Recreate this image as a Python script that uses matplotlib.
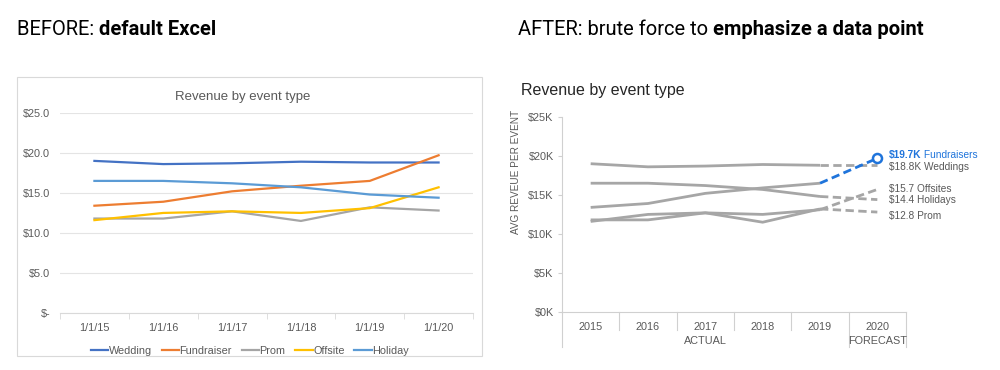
import matplotlib
matplotlib.use("Agg")
import matplotlib.pyplot as plt
import matplotlib.transforms as mtrans
from matplotlib.patches import Rectangle

years_before = ["1/1/15", "1/1/16", "1/1/17", "1/1/18", "1/1/19", "1/1/20"]
years_after = ["2015", "2016", "2017", "2018", "2019", "2020"]
series_names = ["Wedding", "Fundraiser", "Prom", "Offsite", "Holiday"]
wedding = [19.0, 18.6, 18.7, 18.9, 18.8, 18.8]
fundraiser = [13.4, 13.9, 15.2, 15.9, 16.5, 19.7]
prom = [11.8, 11.8, 12.7, 11.5, 13.2, 12.8]
offsite = [11.6, 12.5, 12.7, 12.5, 13.1, 15.7]
holiday = [16.5, 16.5, 16.2, 15.7, 14.8, 14.4]
excel_colors = ["#4472C4", "#ED7D31", "#A5A5A5", "#FFC000", "#5B9BD5"]
end_labels = ["$18.8K Weddings", "$19.7K Fundraisers", "$12.8 Prom", "$15.7 Offsites", "$14.4 Holidays"]

all_series = [wedding, fundraiser, prom, offsite, holiday]

plt.rcParams['font.family'] = ['Liberation Sans', 'DejaVu Sans']
GREY_TXT = "#595959"
LINE_GREY = "#A6A6A6"
BLUE = "#1F74DB"
HEAD_FONT = ['Liberation Sans Narrow', 'Roboto', 'DejaVu Sans']

fig = plt.figure(figsize=(10, 3.7), dpi=100)

# ---- BEFORE chart ----
fig.patches.append(Rectangle((0.017, 0.038), 0.465, 0.754, transform=fig.transFigure,
                             facecolor='none', edgecolor='#D9D9D9', lw=0.8))
ax1 = fig.add_axes([0.060, 0.154, 0.413, 0.541])
x = range(len(years_before))
for name, vals, c in zip(series_names, all_series, excel_colors):
    ax1.plot(x, vals, color=c, lw=1.6, label=name)
ax1.set_xlim(-0.5, 5.5)
ax1.set_ylim(0, 25)
ax1.set_yticks([0, 5, 10, 15, 20, 25])
ax1.set_yticklabels(["$-", "$5.0", "$10.0", "$15.0", "$20.0", "$25.0"])
ax1.set_xticks(list(x))
ax1.set_xticklabels(years_before)
ax1.set_xticks([i - 0.5 for i in range(7)], minor=True)
ax1.tick_params(axis='x', which='major', length=0, pad=7, labelsize=7.8, labelcolor=GREY_TXT)
ax1.tick_params(axis='x', which='minor', length=4, color='#D9D9D9')
ax1.tick_params(axis='y', length=0, pad=7, labelsize=7.8, labelcolor=GREY_TXT)
ax1.grid(axis='y', color='#E4E4E4', lw=0.8)
ax1.set_axisbelow(True)
for s in ['top', 'right', 'left']:
    ax1.spines[s].set_visible(False)
ax1.spines['bottom'].set_color('#D9D9D9')
ax1.set_title("Revenue by event type", fontsize=9.5, color=GREY_TXT, x=0.443, pad=9)
ax1.legend(loc='center', bbox_to_anchor=(0.46, -0.19), ncol=5, frameon=False,
           fontsize=7.8, handlelength=1.6, handletextpad=0.05, columnspacing=0.9,
           labelcolor=GREY_TXT)

# headings
t = fig.text(0.017, 0.905, "BEFORE: ", fontsize=14.5, family=HEAD_FONT, va='baseline')
ax1.annotate("default Excel", xy=(1, 0), xycoords=t, fontsize=14.5, family=HEAD_FONT,
             weight='bold', va='bottom', annotation_clip=False)
t2 = fig.text(0.518, 0.905, "AFTER: brute force to ", fontsize=14.5, family=HEAD_FONT, va='baseline')
ax1.annotate("emphasize a data point", xy=(1, 0), xycoords=t2, fontsize=14.5, family=HEAD_FONT,
             weight='bold', va='bottom', annotation_clip=False)

# ---- AFTER chart ----
ax2 = fig.add_axes([0.562, 0.157, 0.344, 0.527])
for name, vals in zip(series_names, all_series):
    hi = name == "Fundraiser"
    ax2.plot(range(5), vals[:5], color=LINE_GREY, lw=2, solid_capstyle='butt')
    ax2.plot([4, 5], vals[4:], color=BLUE if hi else LINE_GREY, lw=2, ls=(0, (3, 1.6)))
ax2.plot([5], [fundraiser[5]], 'o', ms=6.5, mfc='white', mec=BLUE, mew=1.8)
ax2.set_xlim(-0.5, 5.5)
ax2.set_ylim(0, 25)
ax2.set_yticks([0, 5, 10, 15, 20, 25])
ax2.set_yticklabels(["$0K", "$5K", "$10K", "$15K", "$20K", "$25K"])
ax2.set_xticks(range(6))
ax2.set_xticklabels(years_after)
ax2.tick_params(axis='x', length=0, pad=7, labelsize=7.8, labelcolor=GREY_TXT)
ax2.tick_params(axis='y', length=3, color='#D0D0D0', pad=3, labelsize=7.8, labelcolor=GREY_TXT)
for s in ['top', 'right']:
    ax2.spines[s].set_visible(False)
ax2.spines['left'].set_color('#D0D0D0')
ax2.spines['bottom'].set_color('#D0D0D0')
ax2.set_ylabel("AVG REVEUE PER EVENT", fontsize=7.2, color=GREY_TXT)
ax2.yaxis.set_label_coords(-0.12, 0.72)
ax2.set_title("Revenue by event type", fontsize=11.5, color='#262626', loc='left', x=-0.12, pad=16)

# category separators below the axis
btr = mtrans.blended_transform_factory(ax2.transData, ax2.transAxes)
for b in [0.5, 1.5, 2.5, 3.5]:
    ax2.plot([b, b], [0, -0.092], color='#D0D0D0', lw=0.8, transform=btr, clip_on=False)
for b in [-0.5, 4.5, 5.5]:
    ax2.plot([b, b], [0, -0.18], color='#D0D0D0', lw=0.8, transform=btr, clip_on=False)
ax2.text(2, -0.15, "ACTUAL", transform=btr, ha='center', va='center', fontsize=7.8, color=GREY_TXT)
ax2.text(5, -0.15, "FORECAST", transform=btr, ha='center', va='center', fontsize=7.8, color=GREY_TXT)

# end labels
label_y = {"Wedding": 18.6, "Fundraiser": 20.1, "Prom": 12.3, "Offsite": 15.8, "Holiday": 14.4}
for name, lab in zip(series_names, end_labels):
    y = label_y[name]
    if name == "Fundraiser":
        val, rest = lab.split(" ", 1)
        tv = ax2.text(5.2, y, val, fontsize=7.3, color=BLUE, weight='bold', va='center', clip_on=False)
        ax2.annotate(" " + rest, xy=(1, 0.5), xycoords=tv, fontsize=7.3, color=BLUE, va='center',
                     annotation_clip=False)
    else:
        ax2.text(5.2, y, lab, fontsize=7.3, color=GREY_TXT, va='center', clip_on=False)

fig.savefig("out.png", dpi=100)
